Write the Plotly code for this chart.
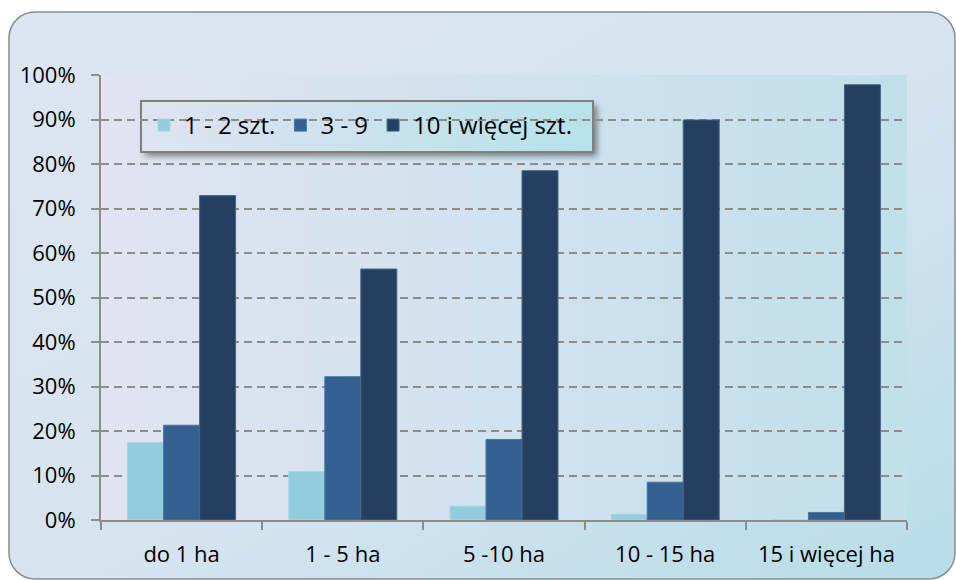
import base64
import plotly.graph_objects as go

categories = ["do 1 ha", "1 - 5 ha", "5 -10 ha", "10 - 15 ha", "15 i więcej ha"]
series_names = ["1 - 2 szt.", "3 - 9", "10 i więcej szt."]
s_1_2 = [0.174, 0.109, 0.031, 0.013, 0.0]
s_3_9 = [0.213, 0.322, 0.181, 0.085, 0.017]
s_10 = [0.729, 0.564, 0.785, 0.899, 0.978]
colors = ["#93CDDD", "#34608F", "#243F60"]
edge_colors = ["#A9D7E4", "#4C74A0", "#4A6584"]

W, H = 956, 580
PL, PR, PT, PB = 101, 907, 75, 520  # plot area pixels

# decorative background (frame, plot-area gradient, legend box with shadow)
svg = f'''<svg xmlns="http://www.w3.org/2000/svg" width="{W}" height="{H}" viewBox="0 0 {W} {H}">
<defs>
<linearGradient id="fr" x1="0" y1="0" x2="1" y2="1">
<stop offset="0" stop-color="#DDE5F2"/><stop offset="0.55" stop-color="#D6E4F0"/><stop offset="1" stop-color="#B6DDE8"/>
</linearGradient>
<linearGradient id="pa" x1="0" y1="0" x2="1" y2="0">
<stop offset="0" stop-color="#E1E4F2"/><stop offset="1" stop-color="#C1E0EA"/>
</linearGradient>
<linearGradient id="lg" x1="0" y1="0" x2="1" y2="0">
<stop offset="0" stop-color="#DFE3F1"/><stop offset="1" stop-color="#B6E2EA"/>
</linearGradient>
<filter id="bl" x="-10%" y="-30%" width="120%" height="160%"><feGaussianBlur stdDeviation="3"/></filter>
</defs>
<rect x="9" y="12" width="946" height="567" rx="26" ry="26" fill="url(#fr)" stroke="#8C8C8C" stroke-width="1.5"/>
<rect x="{PL}" y="{PT}" width="{PR-PL}" height="{PB-PT}" fill="url(#pa)"/>
<rect x="145" y="105" width="452" height="51" fill="#000000" fill-opacity="0.45" filter="url(#bl)"/>
<rect x="141" y="101" width="452" height="51" fill="url(#lg)" stroke="#808080" stroke-width="2"/>
</svg>'''
svg_uri = "data:image/svg+xml;base64," + base64.b64encode(svg.encode()).decode()

fig = go.Figure()
for name, vals, c, ec in zip(series_names, [s_1_2, s_3_9, s_10], colors, edge_colors):
    fig.add_trace(go.Bar(x=categories, y=vals, name=name,
                         marker=dict(color=c, line=dict(color=ec, width=1))))

font = "Open Sans"
fig.update_layout(
    width=W, height=H,
    margin=dict(l=0, r=0, t=0, b=0),
    paper_bgcolor="white",
    plot_bgcolor="rgba(0,0,0,0)",
    barmode="group", bargap=0.33, bargroupgap=0,
    font=dict(family=font, size=22, color="#000000"),
    images=[dict(source=svg_uri, xref="paper", yref="paper", x=0, y=1,
                 sizex=1, sizey=1, xanchor="left", yanchor="top",
                 sizing="stretch", layer="below")],
    legend=dict(orientation="h", x=144 / W, y=1 - 103 / H, xanchor="left", yanchor="top",
                bgcolor="rgba(0,0,0,0)", borderwidth=0,
                font=dict(family=font, size=24, color="#000000"),
                traceorder="normal"),
    xaxis=dict(domain=[PL / W, PR / W], showgrid=False, zeroline=False,
               showline=True, linecolor="#8C8C8C", linewidth=2,
               ticks="outside", tickson="boundaries", ticklen=8, tickwidth=2,
               tickcolor="#8C8C8C", ticklabelstandoff=14, automargin=False,
               tickfont=dict(family=font, size=22)),
    yaxis=dict(domain=[(H - PB) / H, (H - PT) / H], range=[0, 1], dtick=0.1,
               tickformat=".0%", showgrid=True, gridcolor="#8C8C8C", gridwidth=2,
               griddash="8px,5px", zeroline=False,
               showline=True, linecolor="#8C8C8C", linewidth=2,
               ticks="outside", ticklen=8, tickwidth=2, tickcolor="#8C8C8C",
               ticklabelstandoff=11, automargin=False,
               tickfont=dict(family=font, size=22)),
)

fig.write_html("out.html", config={"displayModeBar": False},
               post_script="document.body.style.margin='0';document.body.style.overflow='hidden';")
